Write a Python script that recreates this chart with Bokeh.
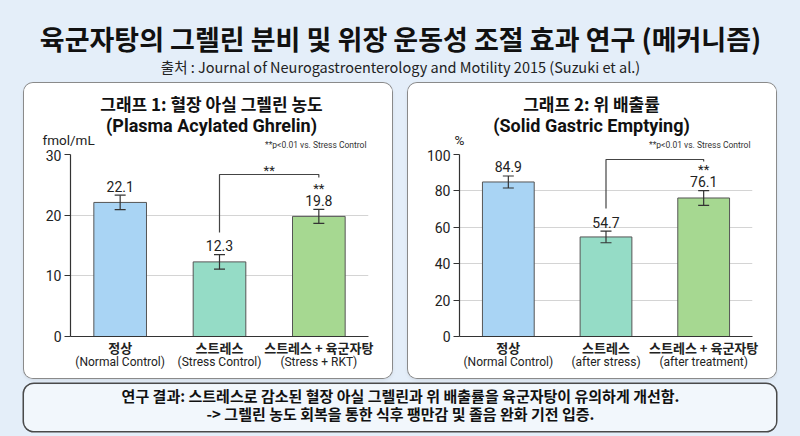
from bokeh.plotting import figure
from bokeh.models import (ColumnDataSource, Range1d, FactorRange, Whisker, TeeHead,
                          LabelSet, Label, Spacer, CategoricalAxis)
from bokeh.layouts import column, row
from bokeh.core.properties import value
from bokeh.embed import file_html
from bokeh.resources import INLINE

# ---------------- data ----------------
main_title = "육군자탕의 그렐린 분비 및 위장 운동성 조절 효과 연구 (메커니즘)"
source_note = "출처 : Journal of Neurogastroenterology and Motility 2015 (Suzuki et al.)"

g1_title_ko = "그래프 1: 혈장 아실 그렐린 농도"
g1_title_en = "(Plasma Acylated Ghrelin)"
g1_unit = "fmol/mL"
g1_categories = ["정상", "스트레스", "스트레스 + 육군자탕"]
g1_subtitles = ["(Normal Control)", "(Stress Control)", "(Stress + RKT)"]
g1_values = [22.1, 12.3, 19.8]
g1_errors = [1.2, 1.2, 1.15]
g1_sig = ["", "", "**"]
g1_ticks = [0, 10, 20, 30]
g1_ymax = 30

g2_title_ko = "그래프 2: 위 배출률"
g2_title_en = "(Solid Gastric Emptying)"
g2_unit = "%"
g2_categories = ["정상", "스트레스", "스트레스 + 육군자탕"]
g2_subtitles = ["(Normal Control)", "(after stress)", "(after treatment)"]
g2_values = [84.9, 54.7, 76.1]
g2_errors = [3.3, 3.2, 4.0]
g2_sig = ["", "", "**"]
g2_ticks = [0, 20, 40, 60, 80, 100]
g2_ymax = 100

sig_note = "**p<0.01 vs. Stress Control"
conclusion_1 = "연구 결과: 스트레스로 감소된 혈장 아실 그렐린과 위 배출률을 육군자탕이 유의하게 개선함."
conclusion_2 = "-> 그렐린 농도 회복을 통한 식후 팽만감 및 졸음 완화 기전 입증."

bar_colors = ["#a9d4f4", "#95dcc6", "#a6d891"]

# ---------------- style ----------------
BG = "#e4eef9"
KO = "Noto Sans CJK KR"
EN = "Roboto"
TXT = "#222222"

PANEL_Y = 83                 # window y of panel top
PANEL_W = 368
HDR_H = 66                   # heading strip height
CHART_H = 229                # chart strip height
FRAME_TOP, FRAME_BOTTOM = 154, 336
CHART_Y = PANEL_Y + HDR_H


def no_frame_align(fig):
    if "frame_align" in fig.properties():
        fig.frame_align = False


def make_header(panel_x, head_ko, head_en, head_x, unit, unit_x, note_right):
    h = figure(width=PANEL_W, height=HDR_H, x_range=Range1d(0, PANEL_W),
               y_range=Range1d(HDR_H, 0), output_backend="svg", toolbar_location=None,
               min_border=0, x_axis_location=None, y_axis_location=None,
               outline_line_color=None, background_fill_color="white",
               border_fill_color="white")
    no_frame_align(h)
    h.grid.visible = False
    h.add_layout(Label(x=head_x - panel_x, y=103 - PANEL_Y, text=head_ko,
                       text_align="center", text_baseline="middle", text_font=KO,
                       text_font_style="bold", text_font_size="17px", text_color="#111111"))
    h.add_layout(Label(x=head_x - panel_x, y=125 - PANEL_Y, text=head_en,
                       text_align="center", text_baseline="middle", text_font=EN,
                       text_font_style="bold", text_font_size="18px", text_color="#111111"))
    h.add_layout(Label(x=unit_x - panel_x, y=139 - PANEL_Y, text=unit, text_align="left",
                       text_baseline="middle", text_font=EN, text_font_size="13.5px",
                       text_color=TXT))
    h.add_layout(Label(x=note_right - panel_x, y=144 - PANEL_Y, text=sig_note,
                       text_align="right", text_baseline="middle", text_font=EN,
                       text_font_size="8.5px", text_color="#333333"))
    return h


def make_chart(panel_x, frame_left, frame_right, cats, subs, vals, errs, sig, ticks, ymax,
               bracket_px, bracket_star):
    fh = FRAME_BOTTOM - FRAME_TOP

    def fy(wy):
        return (FRAME_BOTTOM - wy) / fh * ymax

    p = figure(width=PANEL_W, height=CHART_H,
               x_range=FactorRange(*cats), y_range=Range1d(0, ymax),
               output_backend="svg", toolbar_location=None,
               min_border_left=frame_left - panel_x,
               min_border_right=panel_x + PANEL_W - frame_right,
               min_border_top=FRAME_TOP - CHART_Y,
               min_border_bottom=CHART_Y + CHART_H - FRAME_BOTTOM,
               background_fill_color="white", border_fill_color="white",
               outline_line_color=None)
    no_frame_align(p)
    p.extra_x_ranges = {"sub": FactorRange(*subs)}

    src = ColumnDataSource(dict(
        x=cats, top=vals,
        upper=[v + e for v, e in zip(vals, errs)],
        lower=[v - e for v, e in zip(vals, errs)],
        label=[f"{v:.1f}" for v in vals],
        sig=sig, color=bar_colors))

    p.vbar(x="x", top="top", width=0.53, source=src, fill_color="color",
           line_color="#555555", line_width=1)

    p.add_layout(Whisker(base="x", upper="upper", lower="lower", source=src,
                         level="annotation", line_color="#333333", line_width=1.2,
                         upper_head=TeeHead(size=11, line_color="#333333", line_width=1.2),
                         lower_head=TeeHead(size=11, line_color="#333333", line_width=1.2)))

    p.add_layout(LabelSet(x="x", y="upper", text="label", source=src, y_offset=9,
                          text_align="center", text_baseline="middle",
                          text_font=value(EN), text_font_size="14px", text_color=TXT))
    p.add_layout(LabelSet(x="x", y="upper", text="sig", source=src, y_offset=21,
                          text_align="center", text_baseline="middle",
                          text_font=value(EN), text_font_size="13px", text_color=TXT))

    # significance bracket between stress and treatment groups
    y0, y1, y2 = (fy(v) for v in bracket_px)
    p.line(x=[cats[1], cats[1], cats[2], cats[2]], y=[y0, y1, y1, y2],
           line_color="#444444", line_width=1.2)
    if bracket_star:
        p.add_layout(Label(x=2.0, y=fy(170), text="**", text_align="center",
                           text_baseline="middle", text_font=EN,
                           text_font_size="13px", text_color=TXT))

    # axes
    p.xgrid.grid_line_color = None
    p.ygrid.grid_line_color = "#d4d4d4"
    p.ygrid.grid_line_width = 1
    p.yaxis.ticker = ticks
    p.yaxis.minor_tick_line_color = None
    p.yaxis.major_tick_out = 6
    p.yaxis.major_tick_in = 0
    p.yaxis.major_label_standoff = 3
    p.yaxis.major_label_text_font = EN
    p.yaxis.major_label_text_font_size = "14px"
    p.yaxis.major_label_text_color = TXT
    p.axis.axis_line_color = "#333333"
    p.axis.axis_line_width = 1.2
    p.yaxis.major_tick_line_color = "#333333"
    p.xaxis.major_tick_line_color = None
    p.xaxis.major_tick_out = 0
    p.xaxis.major_label_standoff = 1
    p.xaxis.major_label_text_font = KO
    p.xaxis.major_label_text_font_style = "bold"
    p.xaxis.major_label_text_font_size = "13px"
    p.xaxis.major_label_text_color = TXT

    sub_axis = CategoricalAxis(x_range_name="sub",
                               axis_line_color=None, major_tick_line_color=None,
                               minor_tick_line_color=None, major_tick_out=0,
                               major_label_standoff=-5, major_label_text_font=EN,
                               major_label_text_font_size="12px",
                               major_label_text_color=TXT)
    p.add_layout(sub_axis, "below")
    return p


def make_panel(panel_x, frame_left, frame_right, cats, subs, vals, errs, sig, ticks, ymax,
               head_ko, head_en, head_x, unit, unit_x, bracket_px, bracket_star):
    hdr = make_header(panel_x, head_ko, head_en, head_x, unit, unit_x, frame_right - 2)
    chart = make_chart(panel_x, frame_left, frame_right, cats, subs, vals, errs, sig,
                       ticks, ymax, bracket_px, bracket_star)
    return column(hdr, chart,
                  styles={"border-radius": "9px", "overflow": "hidden",
                          "background-color": "white",
                          "box-shadow": "0 0 0 1px #8a8a8a, 0 2px 4px rgba(0,0,0,0.10)"})


panel1 = make_panel(24, 70, 368, g1_categories, g1_subtitles, g1_values, g1_errors, g1_sig,
                    g1_ticks, g1_ymax, g1_title_ko, g1_title_en, 211, g1_unit, 42,
                    (232, 174, 177), True)
panel2 = make_panel(408, 459, 752, g2_categories, g2_subtitles, g2_values, g2_errors, g2_sig,
                    g2_ticks, g2_ymax, g2_title_ko, g2_title_en, 591, g2_unit, 454,
                    (208, 159, 161), False)

# ---------------- header ----------------
head = figure(width=800, height=PANEL_Y, x_range=Range1d(0, 800), y_range=Range1d(PANEL_Y, 0),
              output_backend="svg", toolbar_location=None, min_border=0,
              x_axis_location=None, y_axis_location=None, outline_line_color=None,
              background_fill_alpha=0, border_fill_alpha=0)
no_frame_align(head)
head.grid.visible = False
head.add_layout(Label(x=400, y=38, text=main_title, text_align="center",
                      text_baseline="middle", text_font=KO, text_font_style="bold",
                      text_font_size="27px", text_color="#111111"))
head.add_layout(Label(x=400, y=66, text=source_note, text_align="center",
                      text_baseline="middle", text_font=KO,
                      text_font_size="14.5px", text_color="#222222"))

# ---------------- conclusion box ----------------
FOOT_H = 47
foot = figure(width=752, height=FOOT_H, x_range=Range1d(0, 752), y_range=Range1d(FOOT_H, 0),
              output_backend="svg", toolbar_location=None, min_border=0,
              x_axis_location=None, y_axis_location=None, outline_line_color=None,
              background_fill_color="#f2f7fc", border_fill_color="#f2f7fc")
no_frame_align(foot)
foot.grid.visible = False
foot.styles = {"border-radius": "10px", "overflow": "hidden",
               "box-shadow": "0 0 0 1.5px #4a4a4a"}
foot.add_layout(Label(x=376, y=11, text=conclusion_1, text_align="center",
                      text_baseline="middle", text_font=KO, text_font_style="bold",
                      text_font_size="15px", text_color="#111111"))
foot.add_layout(Label(x=376, y=29, text=conclusion_2, text_align="center",
                      text_baseline="middle", text_font=KO, text_font_style="bold",
                      text_font_size="15px", text_color="#111111"))

layout = column(
    head,
    row(Spacer(width=24, height=295), panel1, Spacer(width=16, height=295), panel2,
        Spacer(width=24, height=295)),
    Spacer(width=800, height=6),
    row(Spacer(width=24, height=FOOT_H), foot, Spacer(width=24, height=FOOT_H)),
    Spacer(width=800, height=5),
    styles={"background-color": BG},
)

open("out.html", "w").write(file_html(layout, INLINE))
